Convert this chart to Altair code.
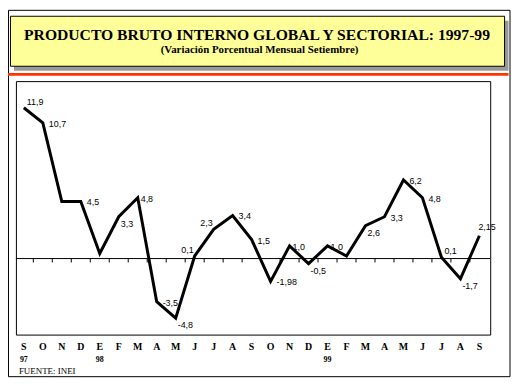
import altair as alt
import pandas as pd

months = ["S", "O", "N", "D", "E", "F", "M", "A", "M", "J", "J", "A", "S",
          "O", "N", "D", "E", "F", "M", "A", "M", "J", "J", "A", "S"]
years = ["97", "", "", "", "98", "", "", "", "", "", "", "", "",
         "", "", "", "99", "", "", "", "", "", "", "", ""]
values = [11.9, 10.7, 4.5, 4.5, 0.4, 3.3, 4.8, -3.4, -4.7, 0.2, 2.3, 3.4, 1.5,
          -1.8, 1.0, -0.4, 1.0, 0.2, 2.6, 3.3, 6.2, 4.8, 0.1, -1.6, 1.8]
labels = ["11,9", "10,7", "", "4,5", "", "3,3", "4,8", "-3,5", "-4,8", "0,1", "2,3", "3,4", "1,5",
          "-1,98", "1,0", "-0,5", "1,0", "", "2,6", "3,3", "6,2", "4,8", "0,1", "-1,7", "2,15"]
placement = ["ur", "r", "", "r", "", "dr", "rc", "r", "dr", "ul", "ul", "r", "r",
             "r", "rc", "dr", "rc", "", "dr", "r", "r", "r", "ur", "dr", "u"]

title = "PRODUCTO BRUTO INTERNO GLOBAL Y SECTORIAL: 1997-99"
subtitle = "(Variación Porcentual Mensual Setiembre)"
source = "FUENTE: INEI"

df = pd.DataFrame({"i": list(range(len(months))), "month": months, "year": years,
                   "value": values, "label": labels, "pos": placement})
ticks = pd.DataFrame({"t": [k + 0.5 for k in range(len(months) - 1)]})
one = alt.Data(values=[{"a": 1}])

W, H = 479, 256
xs = alt.Scale(domain=[-0.417, 24.57], nice=False, zero=False)
ys = alt.Scale(domain=[-6, 14], nice=False, zero=False)
X = alt.X("i:Q", scale=xs, axis=None)
Y = alt.Y("value:Q", scale=ys, axis=None)

SERIF = "'Liberation Serif', 'Times New Roman', 'DejaVu Serif', serif"
SANS = "'Liberation Sans', Arial, sans-serif"

def box(x, x2, y, y2, **kw):
    return alt.Chart(one).mark_rect(**kw).encode(
        x=alt.value(x), x2=alt.value(x2), y=alt.value(y), y2=alt.value(y2))

def txt(s, x, y, **kw):
    return alt.Chart(one).mark_text(text=s, **kw).encode(x=alt.value(x), y=alt.value(y))

frame = box(-7.5, 499, -71.5, 298.5, fill=None, stroke="black", strokeWidth=1)
shadow = box(-2, 497.5, -61, -10.5, fill="#999999")
tbox = box(-5.5, 493.5, -65.5, -15, fill="#FFFF99", stroke="black", strokeWidth=1)
redline = box(-8, 497.5, -8.3, -5.3, fill="#FF3300")
t1 = txt(title, 243.5, -42, font=SERIF, fontSize=15.8, fontWeight="bold",
         align="center", baseline="alphabetic", color="black")
t2 = txt(subtitle, 246, -28, font=SERIF, fontSize=11, fontWeight="bold",
         align="center", baseline="alphabetic", color="black")
src = txt(source, 3, 293, font=SERIF, fontSize=9, align="left", baseline="middle", color="black")

zero = alt.Chart(one).mark_rule(color="black", strokeWidth=1).encode(
    y=alt.Y(datum=0, scale=ys, axis=None), x=alt.value(0), x2=alt.value(W))
tickm = alt.Chart(ticks).mark_rule(color="black", strokeWidth=1).encode(
    x=alt.X("t:Q", scale=xs, axis=None),
    y=alt.Y(datum=0, scale=ys, axis=None), y2=alt.Y2(datum=-0.31))

line = alt.Chart(df).mark_line(color="black", strokeWidth=3, strokeJoin="miter").encode(x=X, y=Y)

offsets = {"r": ("left", 6, 1), "rc": ("left", 3, 1), "dr": ("left", 2, 7),
           "ur": ("left", 3, -6), "ul": ("right", -1, -6), "u": ("left", -1, -9)}
lab_layers = []
for code, (al, dx, dy) in offsets.items():
    lab_layers.append(
        alt.Chart(df).transform_filter(alt.datum.pos == code).mark_text(
            align=al, baseline="middle", dx=dx, dy=dy, font=SANS, fontSize=9, color="black"
        ).encode(x=X, y=Y, text="label:N"))

mlab = alt.Chart(df).mark_text(font=SERIF, fontSize=10, fontWeight="bold", baseline="middle",
                               align="center", color="black").encode(
    x=X, y=alt.value(269), text="month:N")
ylab = alt.Chart(df).mark_text(font=SERIF, fontSize=8, fontWeight="bold", baseline="middle",
                               align="center", color="black").encode(
    x=X, y=alt.value(282), text="year:N")

chart = alt.layer(frame, shadow, tbox, redline, t1, t2, src, zero, tickm, line,
                  *lab_layers, mlab, ylab).properties(
    width=W, height=H,
    padding={"left": 8, "top": 72, "right": 21, "bottom": 43},
    autosize=alt.AutoSizeParams(type="none"),
    background="white",
).configure_view(stroke="black", strokeWidth=1)

chart.save("out.html", embed_options={"renderer": "svg", "actions": False})
